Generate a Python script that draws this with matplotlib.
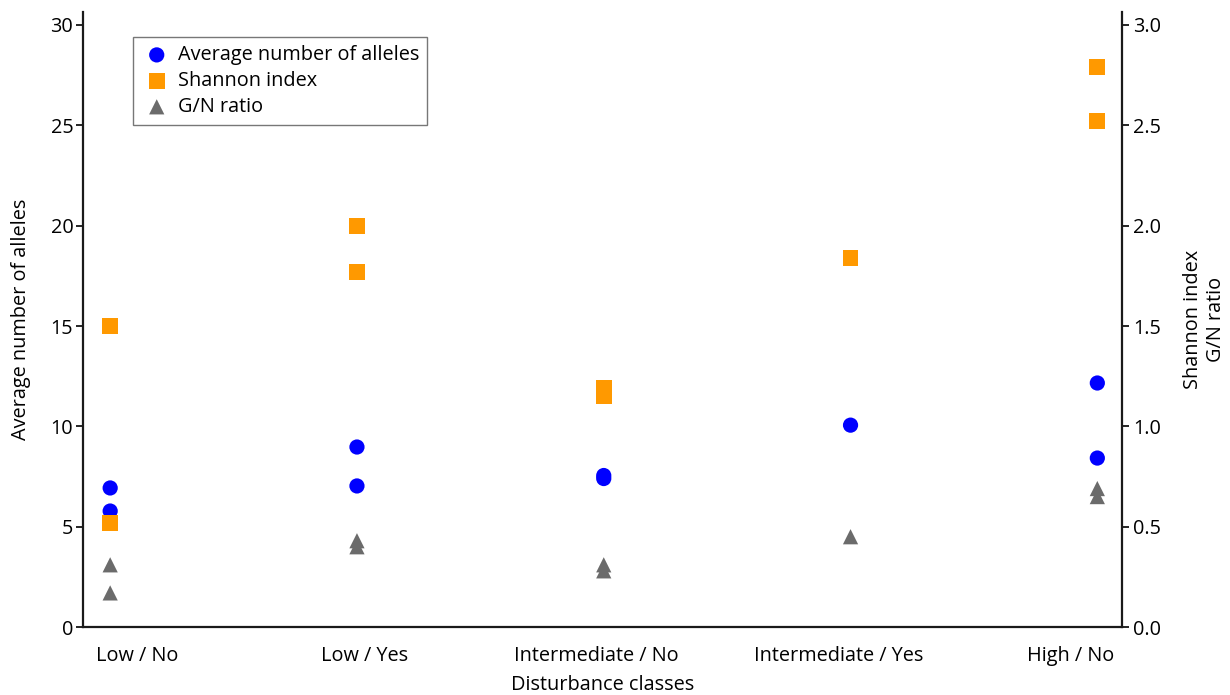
import matplotlib.pyplot as plt

plt.rcParams['font.family'] = ['Open Sans', 'DejaVu Sans']

# Disturbance classes (intensity / recurrence)
classes = ['Low / No', 'Low / Yes', 'Intermediate / No', 'Intermediate / Yes', 'High / No']
# where each class label sits along the x axis
label_pos = [0.11, 1.03, 1.97, 2.95, 3.89]

# Two populations per class (only one for Intermediate / Yes)
pop_class = [0, 0, 1, 1, 2, 2, 3, 4, 4]
alleles = [6.93, 5.78, 8.97, 7.03, 7.55, 7.40, 10.06, 12.16, 8.42]
shannon = [1.50, 0.52, 2.00, 1.77, 1.19, 1.15, 1.84, 2.79, 2.52]
gn_ratio = [0.31, 0.17, 0.43, 0.40, 0.31, 0.28, 0.45, 0.69, 0.65]

fs = 14.3

fig = plt.figure(figsize=(12.3, 6.95), dpi=100)
ax = fig.add_axes([0.0675, 0.0978, 0.8447, 0.885])
ax2 = ax.twinx()

h1 = ax.scatter(pop_class, alleles, s=120, marker='o', color='#0000ff',
                edgecolors='none', label='Average number of alleles', zorder=3)
h2 = ax2.scatter(pop_class, shannon, s=130, marker='s', color='#ff9900',
                 edgecolors='none', label='Shannon index', zorder=3)
h3 = ax2.scatter(pop_class, gn_ratio, s=120, marker='^', color='#6b6b6b',
                 edgecolors='none', label='G/N ratio', zorder=3)

ax.set_xlim(-0.11, 4.1)
ax.set_ylim(0, 30.65)
ax2.set_ylim(0, 3.065)
ax.set_yticks([0, 5, 10, 15, 20, 25, 30])
ax2.set_yticks([0.0, 0.5, 1.0, 1.5, 2.0, 2.5, 3.0])
ax2.set_yticklabels(['0.0', '0.5', '1.0', '1.5', '2.0', '2.5', '3.0'])

ax.set_xticks(label_pos)
ax.set_xticklabels(classes)

for a in (ax, ax2):
    a.spines['top'].set_visible(False)
    for sp in a.spines.values():
        sp.set_linewidth(1.6)
        sp.set_color('#1a1a1a')
ax.spines['right'].set_visible(False)
ax2.spines['left'].set_visible(False)
ax2.spines['bottom'].set_visible(False)

ax.tick_params(axis='x', length=0, pad=14, labelsize=fs)
ax.tick_params(axis='y', length=5, width=1.2, pad=2, labelsize=fs)
ax2.tick_params(axis='y', length=5, width=1.2, pad=3, labelsize=fs)

ax.set_xlabel('Disturbance classes', fontsize=fs, labelpad=6)
ax.set_ylabel('Average number of alleles', fontsize=fs, labelpad=14)
ax2.set_ylabel('Shannon index\nG/N ratio', fontsize=fs, labelpad=16)

leg = ax2.legend(handles=[h1, h2, h3], loc='upper left',
                 bbox_to_anchor=(0.048, 0.959), borderaxespad=0, fontsize=fs,
                 frameon=True, fancybox=False, edgecolor='#555555',
                 handletextpad=0.25, borderpad=0.4, labelspacing=0.3,
                 handlelength=1.6, scatterpoints=1)
leg.get_frame().set_linewidth(1.0)

fig.savefig('out.png', dpi=100)
